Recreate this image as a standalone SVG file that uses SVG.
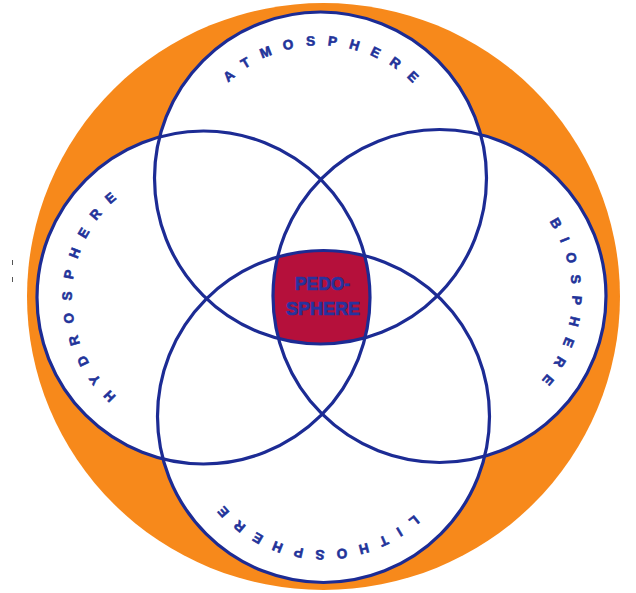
<svg xmlns="http://www.w3.org/2000/svg" width="636" height="593" viewBox="0 0 636 593">
  <style>
    .ring { fill: none; stroke: #1C2B94; stroke-width: 3.2; }
    .disc { fill: #FFFFFF; stroke: none; }
    .lbl { font-family: "Liberation Sans", Arial, sans-serif; font-weight: bold; font-size: 13.5px; fill: #22339A; stroke: #22339A; stroke-width: 0.6px; text-anchor: middle; }
    .ped { font-family: "Liberation Sans", Arial, sans-serif; font-weight: bold; font-size: 18.5px; fill: #27339E; stroke: #27339E; stroke-width: 0.7px; text-anchor: middle; }
  </style>
  <defs>
    <clipPath id="cT"><circle cx="320.5" cy="178" r="166"/></clipPath>
    <clipPath id="cB"><circle cx="323.5" cy="416.5" r="166"/></clipPath>
    <clipPath id="cL"><circle cx="203.5" cy="297.5" r="166.5"/></clipPath>
    <clipPath id="cR"><circle cx="439.5" cy="296" r="166.5"/></clipPath>
    <path id="pT" d="M 320.5,310.5 A 132.5 132.5 0 1 1 320.5,45.5 A 132.5 132.5 0 1 1 320.5,310.5"/>
    <path id="pL" d="M 335,297.5 A 131.5 131.5 0 1 1 72,297.5 A 131.5 131.5 0 1 1 335,297.5"/>
    <path id="pR" d="M 307,296 A 132.5 132.5 0 1 1 572,296 A 132.5 132.5 0 1 1 307,296"/>
    <path id="pB" d="M 323.5,283 A 133.5 133.5 0 1 1 323.5,550 A 133.5 133.5 0 1 1 323.5,283"/>
  </defs>
  <rect x="0" y="0" width="636" height="593" fill="#FFFFFF"/>
  <g id="background">
    <ellipse cx="323.5" cy="296.5" rx="296.5" ry="293.5" fill="#F7891B"/>
    <line x1="12.5" y1="260" x2="12.5" y2="265" stroke="#555555" stroke-width="1"/>
    <line x1="12.5" y1="277" x2="12.5" y2="282" stroke="#555555" stroke-width="1"/>
  </g>
  <g id="discs">
    <circle class="disc" cx="320.5" cy="178" r="166"/>
    <circle class="disc" cx="323.5" cy="416.5" r="166"/>
    <circle class="disc" cx="203.5" cy="297.5" r="166.5"/>
    <circle class="disc" cx="439.5" cy="296" r="166.5"/>
  </g>
  <g id="pedosphere">
    <g clip-path="url(#cT)"><g clip-path="url(#cB)"><g clip-path="url(#cL)">
      <rect x="250" y="230" width="140" height="130" fill="#B5103B" clip-path="url(#cR)"/>
    </g></g></g>
    <text class="ped" x="322.5" y="290" textLength="55" lengthAdjust="spacingAndGlyphs">PEDO-</text>
    <text class="ped" x="323" y="315" textLength="74" lengthAdjust="spacingAndGlyphs">SPHERE</text>
  </g>
  <g id="atmosphere">
    <circle class="ring" cx="320.5" cy="178" r="166"/>
    <text class="lbl" letter-spacing="12.2"><textPath href="#pT" startOffset="422.4">ATMOSPHERE</textPath></text>
  </g>
  <g id="lithosphere">
    <circle class="ring" cx="323.5" cy="416.5" r="166"/>
    <text class="lbl" letter-spacing="11.6"><textPath href="#pB" startOffset="431.4">LITHOSPHERE</textPath></text>
  </g>
  <g id="hydrosphere">
    <circle class="ring" cx="203.5" cy="297.5" r="166.5"/>
    <text class="lbl" letter-spacing="11.9"><textPath href="#pL" startOffset="419.05">HYDROSPHERE</textPath></text>
  </g>
  <g id="biosphere">
    <circle class="ring" cx="439.5" cy="296" r="166.5"/>
    <text class="lbl" letter-spacing="11.4"><textPath href="#pR" startOffset="428">BIOSPHERE</textPath></text>
  </g>
  <g id="connectors"></g>
</svg>
